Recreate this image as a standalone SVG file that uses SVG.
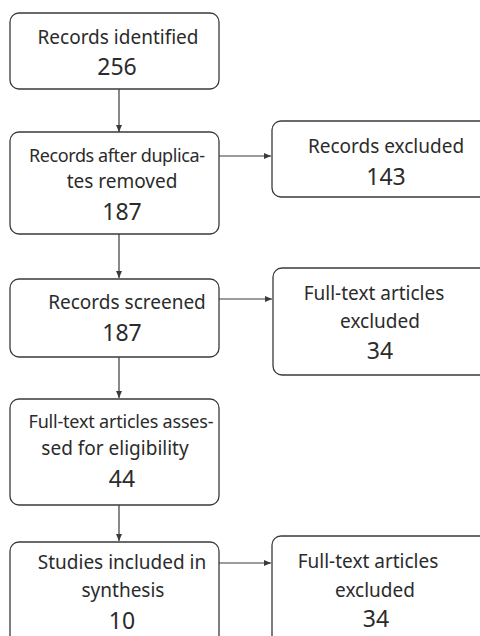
<svg xmlns="http://www.w3.org/2000/svg" width="480" height="636" viewBox="0 0 480 636">
<defs>
<marker id="ah" markerWidth="8" markerHeight="8" refX="7" refY="4" orient="auto" markerUnits="userSpaceOnUse">
<path d="M0,1 L7,4 L0,7 Z" fill="#3a3a3a"/>
</marker>
<style>
.box{fill:#ffffff;stroke:#3a3a3a;stroke-width:1.3}
.t{font-family:"Noto Sans","Liberation Sans",sans-serif;font-size:19px;fill:#2b2b2b;text-anchor:middle}
.s{font-size:18px}
.n{font-family:"Noto Sans","Liberation Sans",sans-serif;font-size:23px;fill:#2b2b2b;text-anchor:middle}
.c{stroke:#3a3a3a;stroke-width:1.2;fill:none;marker-end:url(#ah)}
</style>
</defs>
<rect width="480" height="636" fill="#ffffff"/>
<g id="connectors">
<line class="c" x1="119" y1="89" x2="119" y2="132"/>
<line class="c" x1="119" y1="234" x2="119" y2="278"/>
<line class="c" x1="119" y1="357" x2="119" y2="398"/>
<line class="c" x1="119" y1="505" x2="119" y2="541"/>
<line class="c" x1="219" y1="156" x2="271" y2="156"/>
<line class="c" x1="219" y1="299" x2="272" y2="299"/>
<line class="c" x1="219" y1="563" x2="271" y2="563"/>
</g>
<g id="n1">
<rect class="box" x="10" y="13" width="209" height="76" rx="9"/>
<text class="t" x="118" y="44">Records identified</text>
<text class="n" x="117" y="75">256</text>
</g>
<g id="n2">
<rect class="box" x="10" y="132" width="209" height="102" rx="9"/>
<text class="t s" x="117" y="162" textLength="176">Records after duplica-</text>
<text class="t" x="122" y="188">tes removed</text>
<text class="n" x="122" y="220">187</text>
</g>
<g id="n3">
<rect class="box" x="272" y="121" width="228" height="76" rx="9"/>
<text class="t" x="386" y="153">Records excluded</text>
<text class="n" x="386" y="185">143</text>
</g>
<g id="n4">
<rect class="box" x="10" y="279" width="209" height="78" rx="9"/>
<text class="t" x="127" y="309">Records screened</text>
<text class="n" x="122" y="341">187</text>
</g>
<g id="n5">
<rect class="box" x="273" y="268" width="227" height="107" rx="9"/>
<text class="t" x="374" y="300">Full-text articles</text>
<text class="t" x="380" y="328">excluded</text>
<text class="n" x="380" y="359">34</text>
</g>
<g id="n6">
<rect class="box" x="10" y="399" width="209" height="106" rx="9"/>
<text class="t s" x="121" y="428" textLength="185">Full-text articles asses-</text>
<text class="t" x="115" y="455">sed for eligibility</text>
<text class="n" x="122" y="487">44</text>
</g>
<g id="n7">
<rect class="box" x="10" y="542" width="209" height="110" rx="9"/>
<text class="t" x="122" y="569">Studies included in</text>
<text class="t" x="123" y="597">synthesis</text>
<text class="n" x="122" y="629">10</text>
</g>
<g id="n8">
<rect class="box" x="272" y="536" width="228" height="116" rx="9"/>
<text class="t" x="368" y="568">Full-text articles</text>
<text class="t" x="375" y="597">excluded</text>
<text class="n" x="376" y="627">34</text>
</g>
</svg>
